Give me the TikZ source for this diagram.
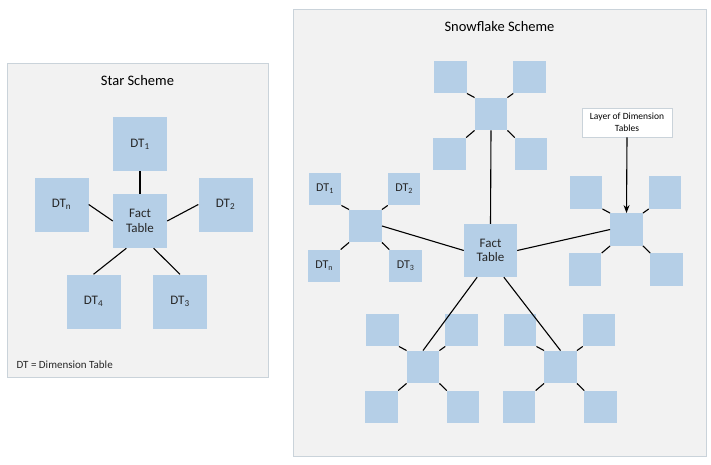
\documentclass[tikz,border=0pt]{standalone}
\usepackage{fontspec}
\setmainfont{Carlito}
\usetikzlibrary{calc,arrows.meta}
\definecolor{boxblue}{HTML}{B5CFE7}
\definecolor{panelbg}{HTML}{F2F2F2}
\definecolor{panelline}{HTML}{CAD3DA}
\definecolor{txt}{HTML}{262626}
\newcommand\snowcluster[7]{%
 \begin{scope}[shift={(#2,#3)}]
  \node[smallbox] (#1-c) at (0,0) {};
  \node[smallbox] (#1-tl) at (-40.5,-37) {#4};
  \node[smallbox] (#1-tr) at (38.7,-37) {#5};
  \node[smallbox] (#1-bl) at (-41.3,40) {#6};
  \node[smallbox] (#1-br) at (40.2,40) {#7};
  \draw[link] (#1-tl.south east) -- (#1-c.north west);
  \draw[link] (#1-tr.south west) -- (#1-c.north east);
  \draw[link] (#1-bl.north east) -- (#1-c.south west);
  \draw[link] (#1-br.north west) -- (#1-c.south east);
 \end{scope}}
\tikzset{
 panel/.style={fill=panelbg,draw=panelline,line width=0.8pt},
 boxbase/.style={rectangle,fill=boxblue,inner sep=0pt,text=txt,align=center,
   font=\fontsize{13}{14.5}\selectfont},
 bigbox/.style={boxbase,minimum width=54pt,minimum height=54pt},
 factbox/.style={boxbase,minimum width=53pt,minimum height=53pt},
 smallbox/.style={boxbase,minimum width=32.5pt,minimum height=32.5pt,
   font=\fontsize{12}{14}\selectfont},
 link/.style={draw=black,line width=1.1pt},
 titletext/.style={font=\fontsize{14.5}{17}\selectfont,text=black},
 callout/.style={rectangle,fill=white,draw=panelline,line width=0.8pt,align=center,
   minimum width=90pt,minimum height=29pt,inner sep=1pt,
   font=\fontsize{9.5}{12}\selectfont,text=black},
}
\begin{document}
\begin{tikzpicture}[x=1pt,y=-1pt]
\useasboundingbox[fill=white] (0,0) rectangle (711,464);
% ---------- Star scheme ----------
\draw[panel] (7,63) rectangle (268,377);
\node[titletext] (startitle) at (137.5,81) {Star Scheme};
\node[bigbox] (sdt1) at (140,144) {DT\textsubscript{1}};
\node[bigbox] (sfact) at (140,221) {Fact\\Table};
\node[bigbox] (sdtn) at (61.5,204.5) {DT\textsubscript{n}};
\node[bigbox] (sdt2) at (225.5,204.5) {DT\textsubscript{2}};
\node[bigbox] (sdt4) at (93.5,301.5) {DT\textsubscript{4}};
\node[bigbox] (sdt3) at (180,301.5) {DT\textsubscript{3}};
\draw[link] (sdt1.south) -- (sfact.north);
\draw[link] (sdtn.east) -- (sfact.west);
\draw[link] (sdt2.west) -- (sfact.east);
\draw[link] (sdt4.north) -- ($(sfact.south)!0.5!(sfact.south west)$);
\draw[link] (sdt3.north) -- ($(sfact.south)!0.5!(sfact.south east)$);
\node[anchor=west,font=\fontsize{11}{13}\selectfont,text=txt] (legend) at (13,365) {DT = Dimension Table};
% ---------- Snowflake scheme ----------
\draw[panel] (293,9) rectangle (706,456);
\node[titletext] (snowtitle) at (499.5,27) {Snowflake Scheme};
\node[factbox] (fact) at (490.5,250.5) {Fact\\Table};
\snowcluster{tc}{491}{114}{}{}{}{}
\snowcluster{lc}{365.5}{226}{DT\textsubscript{1}}{DT\textsubscript{2}}{DT\textsubscript{n}}{DT\textsubscript{3}}
\snowcluster{rc}{626.5}{229.5}{}{}{}{}
\snowcluster{blc}{423}{367}{}{}{}{}
\snowcluster{brc}{560.5}{367}{}{}{}{}
\node[callout] (layer) at (627,122.5) {Layer of Dimension\\Tables};
\draw[link,-{Stealth[length=8pt,width=6pt]}] (layer.south) -- (rc-c.north);
\draw[link] (tc-c.south) -- (fact.north);
\draw[link] (lc-c.east) -- (fact.west);
\draw[link] (fact.east) -- (rc-c.west);
\draw[link] ($(fact.south)!0.5!(fact.south west)$) -- (blc-c.north);
\draw[link] ($(fact.south)!0.5!(fact.south east)$) -- (brc-c.north);
\end{tikzpicture}
\end{document}
